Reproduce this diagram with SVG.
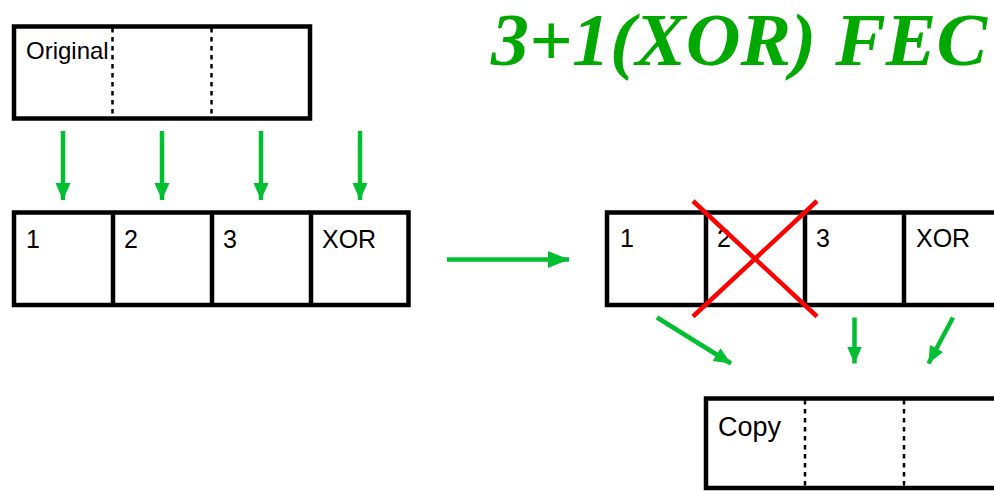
<svg xmlns="http://www.w3.org/2000/svg" width="994" height="491" viewBox="0 0 994 491">
<style>
.box{fill:#fff;stroke:#000;stroke-width:4.5}
.div{stroke:#000;stroke-width:4.5}
.dash{stroke:#000;stroke-width:2.5;stroke-dasharray:4.5 4.5}
.lbl{font-family:"Liberation Sans",Arial,sans-serif;font-size:25px;fill:#000}
.arr{stroke:#00BF30;stroke-width:4.5;fill:none}
.x{stroke:#FF0000;stroke-width:4.5}
.title{font-family:"Liberation Serif","Times New Roman",serif;font-weight:bold;font-style:italic;font-size:75px;fill:#00A800}
</style>
<defs>
<marker id="ah" markerUnits="userSpaceOnUse" markerWidth="18" markerHeight="16" refX="17" refY="7.5" orient="auto">
<path d="M0,0 L17,7.5 L0,15 z" fill="#00BF30"/>
</marker>
<marker id="ahb" markerUnits="userSpaceOnUse" markerWidth="22" markerHeight="18" refX="21" refY="8.5" orient="auto">
<path d="M0,0 L21,8.5 L0,17 z" fill="#00BF30"/>
</marker>
</defs>

<g id="title">
<text class="title" x="491" y="65" textLength="496" lengthAdjust="spacingAndGlyphs">3+1(XOR) FEC</text>
</g>

<g id="original">
<rect class="box" x="14" y="26.5" width="296" height="92"/>
<line class="dash" x1="112.5" y1="28" x2="112.5" y2="117"/>
<line class="dash" x1="211.5" y1="28" x2="211.5" y2="117"/>
<text class="lbl" x="26" y="59" style="font-size:24px">Original</text>
</g>

<g id="packets-sent">
<rect class="box" x="14" y="212.5" width="394.5" height="92.5"/>
<line class="div" x1="113" y1="212.5" x2="113" y2="305"/>
<line class="div" x1="212" y1="212.5" x2="212" y2="305"/>
<line class="div" x1="311" y1="212.5" x2="311" y2="305"/>
<text class="lbl" x="26" y="248">1</text>
<text class="lbl" x="124" y="248">2</text>
<text class="lbl" x="223" y="248">3</text>
<text class="lbl" x="322" y="248">XOR</text>
</g>

<g id="packets-received">
<rect class="box" x="607" y="212.5" width="500" height="92.5"/>
<line class="div" x1="706" y1="212.5" x2="706" y2="305"/>
<line class="div" x1="805" y1="212.5" x2="805" y2="305"/>
<line class="div" x1="904" y1="212.5" x2="904" y2="305"/>
<text class="lbl" x="620" y="247">1</text>
<text class="lbl" x="717" y="247">2</text>
<text class="lbl" x="816" y="247">3</text>
<text class="lbl" x="916" y="247">XOR</text>
</g>

<g id="lost-mark">
<line class="x" x1="693" y1="201" x2="817" y2="316.5"/>
<line class="x" x1="817" y1="201" x2="693" y2="316.5"/>
</g>

<g id="copy">
<rect class="box" x="706" y="398.5" width="400" height="89.5"/>
<line class="dash" x1="805" y1="400" x2="805" y2="487"/>
<line class="dash" x1="904" y1="400" x2="904" y2="487"/>
<text class="lbl" x="718" y="436" style="font-size:27px">Copy</text>
</g>

<g id="connectors">
<line class="arr" x1="63" y1="131" x2="63" y2="200" marker-end="url(#ah)"/>
<line class="arr" x1="162" y1="131" x2="162" y2="200" marker-end="url(#ah)"/>
<line class="arr" x1="261" y1="131" x2="261" y2="200" marker-end="url(#ah)"/>
<line class="arr" x1="360" y1="131" x2="360" y2="200" marker-end="url(#ah)"/>
<line class="arr" x1="447" y1="259.5" x2="569" y2="259.5" stroke-width="5" marker-end="url(#ahb)"/>
<line class="arr" x1="657" y1="317.5" x2="731" y2="363.5" marker-end="url(#ah)"/>
<line class="arr" x1="854.5" y1="317.5" x2="854.5" y2="363.5" marker-end="url(#ah)"/>
<line class="arr" x1="953" y1="317.5" x2="928.5" y2="363.5" marker-end="url(#ah)"/>
</g>
</svg>
